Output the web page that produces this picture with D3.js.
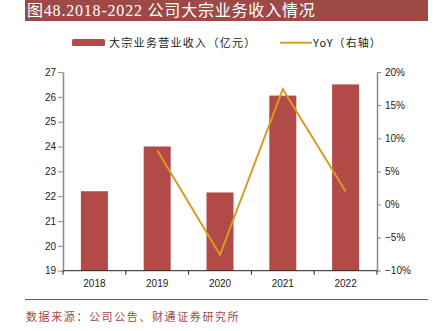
<!DOCTYPE html>
<html><head><meta charset="utf-8">
<script src="https://cdn.jsdelivr.net/npm/d3@7/dist/d3.min.js"></script>
<style>
html,body{margin:0;padding:0;background:#fff;}
svg{display:block;}
</style></head>
<body>
<svg id="chart" width="434" height="331"></svg>
<script>
const categories = ["2018","2019","2020","2021","2022"];
const revenue = [22.2, 24.0, 22.15, 26.05, 26.5];
const yoy = [null, 8.2, -7.6, 17.4, 2.0];
const leftTicks = [19,20,21,22,23,24,25,26,27];
const rightTicks = [-10,-5,0,5,10,15,20];
const title = "图48.2018-2022 公司大宗业务收入情况";
const legendBar = "大宗业务营业收入（亿元）";
const legendLine = "YoY（右轴）";
const source = "数据来源：公司公告、财通证券研究所";

const svg = d3.select("#chart");
const m = {left:63, right:377, top:72, bottom:270.7};
const barColor = "#b24a48", lineColor = "#d99b22", titleColor = "#9d4a47";
const cjk = "'Liberation Serif','Noto Sans CJK SC',serif";

// title bar
svg.append("rect").attr("x",25).attr("y",0).attr("width",403).attr("height",21).attr("fill",titleColor);
svg.append("text").attr("x",27).attr("y",16).attr("fill","#fff")
  .attr("font-family",cjk).attr("font-size",16).attr("letter-spacing",0.8).text(title);

// legend
svg.append("rect").attr("x",72).attr("y",39).attr("width",33).attr("height",7).attr("rx",1.5).attr("fill",barColor);
svg.append("text").attr("x",109).attr("y",46.5).attr("font-family","'Noto Sans CJK SC',sans-serif")
  .attr("font-size",11).attr("letter-spacing",1.3).attr("fill","#222").text(legendBar);
svg.append("line").attr("x1",280).attr("x2",312).attr("y1",42.7).attr("y2",42.7).attr("stroke",lineColor).attr("stroke-width",2);
svg.append("text").attr("x",313).attr("y",46.5).attr("font-family","'Noto Sans CJK SC',sans-serif")
  .attr("font-size",11).attr("letter-spacing",1.1).attr("fill","#222").text(legendLine);

const x = d3.scaleBand().domain(categories).range([m.left,m.right]).paddingInner(0.57).paddingOuter(0.285);
const yL = d3.scaleLinear().domain([19,27]).range([m.bottom,m.top]);
const yR = d3.scaleLinear().domain([-10,20]).range([m.bottom,m.top]);

// bars
svg.append("g").selectAll("rect").data(categories).join("rect")
  .attr("x",d=>x(d)).attr("width",x.bandwidth())
  .attr("y",(d,i)=>yL(revenue[i])).attr("height",(d,i)=>yL(19)-yL(revenue[i]))
  .attr("fill",barColor);

// line
const pts = categories.map((c,i)=>({c,v:yoy[i]})).filter(d=>d.v!==null);
svg.append("path").datum(pts)
  .attr("d",d3.line().x(d=>x(d.c)+x.bandwidth()/2).y(d=>yR(d.v)))
  .attr("fill","none").attr("stroke",lineColor).attr("stroke-width",2);

const tickFont = "'Liberation Sans',Arial,sans-serif";
// left axis
const gl = svg.append("g").attr("transform",`translate(${m.left},0)`)
  .call(d3.axisLeft(yL).tickValues(leftTicks).tickSize(5).tickSizeOuter(0).tickPadding(2));
// right axis
const gr = svg.append("g").attr("transform",`translate(${m.right},0)`)
  .call(d3.axisRight(yR).tickValues(rightTicks).tickSize(4).tickSizeOuter(0).tickPadding(4)
    .tickFormat(d=>(d<0?"\u2212"+Math.abs(d):d)+"%"));
[gl,gr].forEach(g=>{
  g.select(".domain").attr("stroke","#8a8a8a").attr("stroke-width",1.5);
  g.selectAll(".tick line").attr("stroke","#8a8a8a");
  g.selectAll(".tick text").attr("font-family",tickFont).attr("font-size",10).attr("fill","#222");
});

// x axis
const gx = svg.append("g").attr("transform",`translate(0,${m.bottom})`);
gx.append("line").attr("x1",m.left).attr("x2",m.right).attr("stroke","#222").attr("stroke-width",1);
const bounds = d3.range(categories.length+1).map(i=>m.left + i*(m.right-m.left)/categories.length);
gx.selectAll("line.tk").data(bounds).join("line").attr("class","tk")
  .attr("x1",d=>d).attr("x2",d=>d).attr("y1",0).attr("y2",4).attr("stroke","#222");
gx.selectAll("text").data(categories).join("text")
  .attr("x",d=>x(d)+x.bandwidth()/2).attr("y",16).attr("text-anchor","middle")
  .attr("font-family",tickFont).attr("font-size",10).attr("fill","#222").text(d=>d);

// footer
svg.append("line").attr("x1",25).attr("x2",428).attr("y1",299.5).attr("y2",299.5).attr("stroke",titleColor).attr("stroke-width",1);
svg.append("text").attr("x",26).attr("y",321).attr("font-family","'Noto Sans CJK SC',serif")
  .attr("font-size",11).attr("letter-spacing",1.6).attr("fill",titleColor).text(source);
</script>
</body></html>
